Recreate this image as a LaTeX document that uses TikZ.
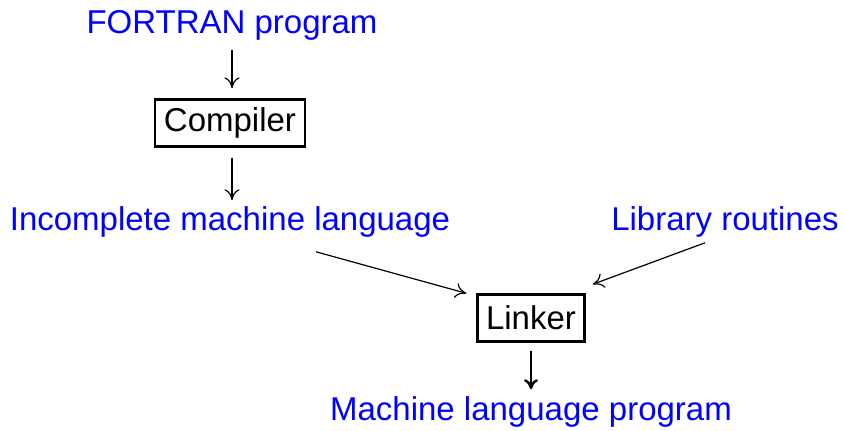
\documentclass[tikz,border=0pt]{standalone}
\usepackage{fontspec}
\setmainfont{Liberation Sans}
\usetikzlibrary{arrows.meta}
\definecolor{lblblue}{RGB}{0,0,255}
\begin{document}
\begin{tikzpicture}[x=0.5pt,y=-0.5pt,
  lbl/.style={text=lblblue,inner sep=0pt,font=\fontsize{16.5pt}{19pt}\selectfont},
  procbox/.style={draw,line width=1.2pt,inner sep=0pt,minimum height=23.5pt,font=\fontsize{16.5pt}{19pt}\selectfont},
  conn/.style={line width=0.6pt,-{To[length=5.5pt,width=7.5pt]}},
  thickconn/.style={line width=1.2pt,-{To[length=5pt,width=7pt]}}]
\useasboundingbox (0,0) rectangle (845,430);
\node[lbl] (fortran) at (232,25) {FORTRAN program};
\node[procbox,minimum width=75pt] (compiler) at (230,123) {Compiler};
\node[lbl] (incomplete) at (230,222) {Incomplete machine language};
\node[lbl] (library) at (725,222) {Library routines};
\node[procbox,minimum width=53.5pt] (linker) at (531,318) {Linker};
\node[lbl] (machine) at (531,412) {Machine language program};
\draw[conn] ([yshift=-5pt]fortran.south) -- ([yshift=5pt]fortran.south |- compiler.north);
\draw[conn] ([xshift=1pt,yshift=-5pt]compiler.south) -- ([xshift=1pt,yshift=3pt]compiler.south |- incomplete.north);
\draw[conn] ([shift={(86,14)}]incomplete.south) -- ([shift={(-10,0)}]linker.north west);
\draw[conn] ([shift={(-20,5)}]library.south) -- ([shift={(7,-9)}]linker.north east);
\draw[thickconn] ([yshift=-4pt]linker.south) -- ([yshift=3.5pt]machine.north);
\end{tikzpicture}
\end{document}
